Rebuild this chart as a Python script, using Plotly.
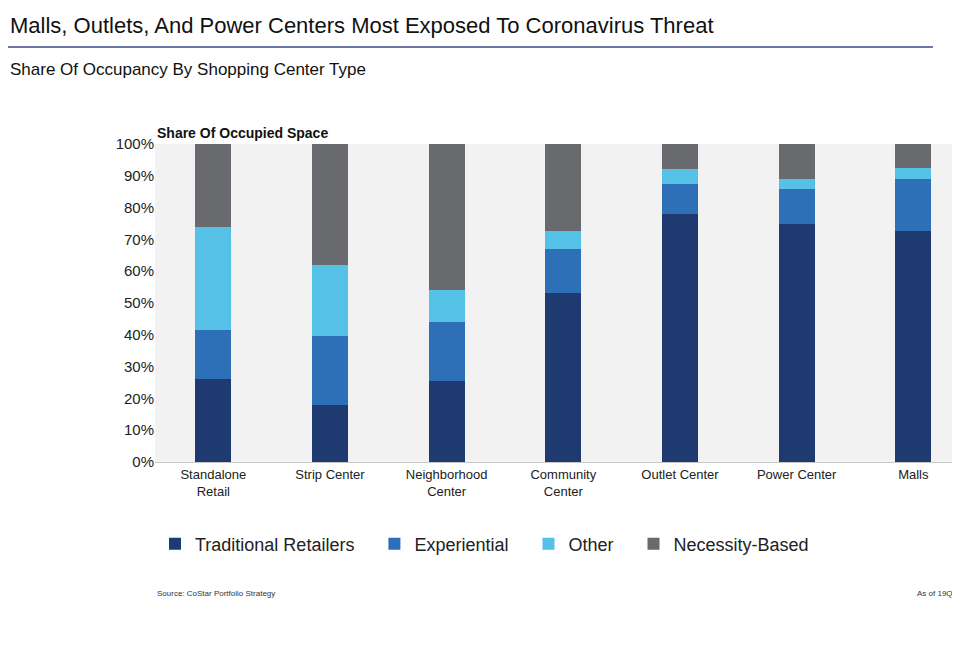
import plotly.graph_objects as go

categories = ["Standalone<br>Retail", "Strip Center", "Neighborhood<br>Center", "Community<br>Center",
              "Outlet Center", "Power Center", "Malls"]
traditional = [26, 18, 25.5, 53, 78, 75, 72.5]
experiential = [15.5, 21.5, 18.5, 14, 9.5, 11, 16.5]
other = [32.5, 22.5, 10, 5.5, 4.5, 3, 3.5]
necessity = [26, 38, 46, 27.5, 8, 11, 7.5]

series = [
    ("Traditional Retailers", traditional, "#1f3a70"),
    ("Experiential", experiential, "#2e70b8"),
    ("Other", other, "#56c1e6"),
    ("Necessity-Based", necessity, "#696a6e"),
]

fig = go.Figure()
for name, vals, color in series:
    fig.add_trace(go.Bar(x=list(range(len(categories))), y=vals, name=name + "   ",
                         marker=dict(color=color, line=dict(width=0)), width=0.31))

fig.update_layout(
    barmode="stack",
    width=952, height=646,
    paper_bgcolor="white",
    plot_bgcolor="#f2f2f2",
    margin=dict(l=147, r=0, t=136, b=192),
    font=dict(family="Liberation Sans, Arial", color="#222"),
    showlegend=True,
    legend=dict(orientation="h", x=0.0, xanchor="left", y=-0.2, yanchor="top",
                font=dict(size=18), traceorder="normal", itemwidth=30),
)
fig.update_xaxes(range=[-0.5, 6.4], tickvals=list(range(len(categories))), ticktext=categories,
                 tickfont=dict(size=13), showgrid=False, zeroline=False,
                 showline=True, linecolor="#c8c8c8")
fig.update_yaxes(range=[0, 100], dtick=10, ticksuffix="%", tickfont=dict(size=15),
                 showgrid=False, zeroline=False, ticks="", ticklen=0)

fig.add_annotation(text="Malls, Outlets, And Power Centers Most Exposed To Coronavirus Threat",
                   xref="paper", yref="paper", x=-147/805, y=1 + 104/318, xanchor="left", yanchor="bottom",
                   showarrow=False, font=dict(size=22, color="#111"))
fig.add_shape(type="line", xref="paper", yref="paper", x0=-147/805, x1=778/805,
              y0=1 + 97/318, y1=1 + 97/318, line=dict(color="#3a4a8a", width=1.5))
fig.add_annotation(text="Share Of Occupancy By Shopping Center Type",
                   xref="paper", yref="paper", x=-147/805, y=1 + 63/318, xanchor="left", yanchor="bottom",
                   showarrow=False, font=dict(size=17, color="#111"))
fig.add_annotation(text="<b>Share Of Occupied Space</b>",
                   xref="paper", yref="paper", x=0, y=1.003, xanchor="left", yanchor="bottom",
                   showarrow=False, font=dict(size=14, color="#111"))
fig.add_annotation(text="Source: CoStar Portfolio Strategy",
                   xref="paper", yref="paper", x=0, y=-131/318, xanchor="left", yanchor="middle",
                   showarrow=False, font=dict(size=8, color="#333"))
fig.add_annotation(text="As of 19Q4",
                   xref="paper", yref="paper", x=1.0, y=-131/318, xanchor="right", yanchor="middle",
                   showarrow=False, font=dict(size=8, color="#333"))

fig.write_html("out.html")
